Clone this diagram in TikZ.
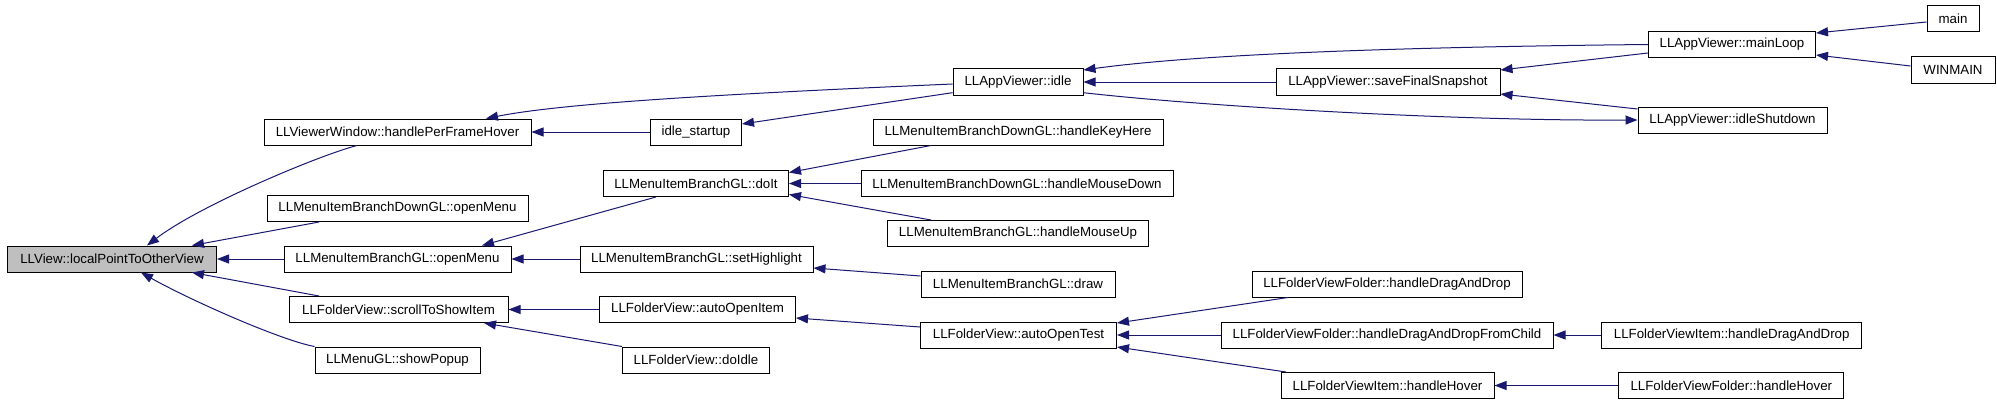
\documentclass[tikz,border=0pt]{standalone}
\usepackage{fontspec}
\setmainfont{Liberation Sans}
\usetikzlibrary{arrows.meta}
\definecolor{edgeblue}{HTML}{191970}
\definecolor{rootgray}{HTML}{BFBFBF}
\tikzset{
  fn/.style={draw=black,fill=white,line width=1pt,minimum height=26pt,inner sep=0pt,font=\fontsize{13.3}{15}\selectfont},
  call/.style={draw=edgeblue,line width=1pt}
}
\begin{document}
\begin{tikzpicture}[x=1pt,y=-1pt,>={Triangle[length=12pt,width=9pt]}]
\useasboundingbox (0,0) rectangle (1997,404);
%functions
\node[fn,fill=rootgray,minimum width=209pt](lpv)at(112,259){LLView::localPointToOtherView};
\node[fn,minimum width=267pt](hpfh)at(397.5,132){LLViewerWindow::handlePerFrameHover};
\node[fn,minimum width=261pt](bdom)at(397.5,208.5){LLMenuItemBranchDownGL::openMenu};
\node[fn,minimum width=227pt](bom)at(397.5,259){LLMenuItemBranchGL::openMenu};
\node[fn,minimum width=219pt](stsi)at(398.5,309.5){LLFolderView::scrollToShowItem};
\node[fn,minimum width=165pt](popup)at(397.5,360){LLMenuGL::showPopup};
\node[fn,minimum width=91pt](istart)at(696,132){idle\_startup};
\node[fn,minimum width=185pt](doit)at(696,183.5){LLMenuItemBranchGL::doIt};
\node[fn,minimum width=233pt](sethl)at(696.5,259){LLMenuItemBranchGL::setHighlight};
\node[fn,minimum width=196pt](aoi)at(697.5,309.5){LLFolderView::autoOpenItem};
\node[fn,minimum width=147pt](doidle)at(696,360){LLFolderView::doIdle};
\node[fn,minimum width=130pt](idle)at(1018,82){LLAppViewer::idle};
\node[fn,minimum width=290pt](hkh)at(1018,132){LLMenuItemBranchDownGL::handleKeyHere};
\node[fn,minimum width=312pt](hmd)at(1017,183.5){LLMenuItemBranchDownGL::handleMouseDown};
\node[fn,minimum width=261pt](hmu)at(1018,233.5){LLMenuItemBranchGL::handleMouseUp};
\node[fn,minimum width=194pt](mdraw)at(1018,284){LLMenuItemBranchGL::draw};
\node[fn,minimum width=196pt](aot)at(1018.5,335){LLFolderView::autoOpenTest};
\node[fn,minimum width=224pt](sfs)at(1388,82){LLAppViewer::saveFinalSnapshot};
\node[fn,minimum width=270pt](fhdd)at(1387,284){LLFolderViewFolder::handleDragAndDrop};
\node[fn,minimum width=332pt](fchild)at(1387,335){LLFolderViewFolder::handleDragAndDropFromChild};
\node[fn,minimum width=213pt](ihover)at(1387.5,385.5){LLFolderViewItem::handleHover};
\node[fn,minimum width=167pt](mloop)at(1732,44.5){LLAppViewer::mainLoop};
\node[fn,minimum width=189pt](ishut)at(1732.5,120){LLAppViewer::idleShutdown};
\node[fn,minimum width=260pt](ihdd)at(1731.7,335){LLFolderViewItem::handleDragAndDrop};
\node[fn,minimum width=225pt](fhover)at(1731.3,385.5){LLFolderViewFolder::handleHover};
\node[fn,minimum width=52pt](main)at(1953,19){main};
\node[fn,minimum width=84pt](winmain)at(1953,70){WINMAIN};
%calls into localPointToOtherView
\draw[call,<-]([xshift=35pt]lpv.north) .. controls (200,205) and (320,155) .. ([xshift=-40.5pt]hpfh.south);
\draw[call,<-]([xshift=80pt]lpv.north) -- ([xshift=-78.5pt]bdom.south);
\draw[call,<-](lpv.east) -- (bom.west);
\draw[call,<-]([xshift=80pt]lpv.south) -- ([xshift=-79.5pt]stsi.north);
\draw[call,<-]([xshift=29pt]lpv.south) .. controls (190,300) and (280,340) .. (popup.north west);
%second column
\draw[call,<-](hpfh.east) -- (istart.west);
\draw[call,<-]([xshift=88.5pt]hpfh.north) .. controls (560,104) and (700,95) .. ([yshift=-2pt]idle.west);
\draw[call,<-]([xshift=84.5pt]bom.north) -- ([xshift=-40pt]doit.south);
\draw[call,<-](bom.east) -- (sethl.west);
\draw[call,<-](stsi.east) -- (aoi.west);
\draw[call,<-]([xshift=85.5pt]stsi.south) -- (doidle.north west);
%third column
\draw[call,<-]([yshift=8pt]istart.east) -- ([yshift=-10.7pt]idle.west);
\draw[call,<-]([yshift=11pt]doit.east) -- ([xshift=-87pt]hkh.south);
\draw[call,<-](doit.east) -- (hmd.west);
\draw[call,<-]([yshift=-11pt]doit.east) -- ([xshift=-87pt]hmu.north);
\draw[call,<-]([yshift=-9pt]sethl.east) -- ([yshift=8pt]mdraw.west);
\draw[call,<-]([yshift=-8.5pt]aoi.east) -- ([yshift=8pt]aot.west);
%fourth column
\draw[call,<-](idle.east) -- (sfs.west);
\draw[call,<-]([yshift=12pt]idle.east) .. controls (1200,54) and (1400,47) .. (mloop.west);
\draw[call,->]([yshift=-10.7pt]idle.east) .. controls (1200,106) and (1450,121) .. (ishut.west);
\draw[call,<-]([yshift=12pt]aot.east) -- ([xshift=-99pt]fhdd.south);
\draw[call,<-](aot.east) -- (fchild.west);
\draw[call,<-]([yshift=-12pt]aot.east) -- ([xshift=-101.5pt]ihover.north);
%fifth column
\draw[call,<-]([yshift=12pt]sfs.east) -- ([yshift=-8.5pt]mloop.west);
\draw[call,<-]([yshift=-12pt]sfs.east) -- ([yshift=11pt]ishut.west);
\draw[call,<-](fchild.east) -- (ihdd.west);
\draw[call,<-](ihover.east) -- (fhover.west);
%mainLoop callers
\draw[call,<-]([yshift=11.5pt]mloop.east) -- ([yshift=-3pt]main.west);
\draw[call,<-]([yshift=-10.5pt]mloop.east) -- ([yshift=4pt]winmain.west);
\end{tikzpicture}
\end{document}
